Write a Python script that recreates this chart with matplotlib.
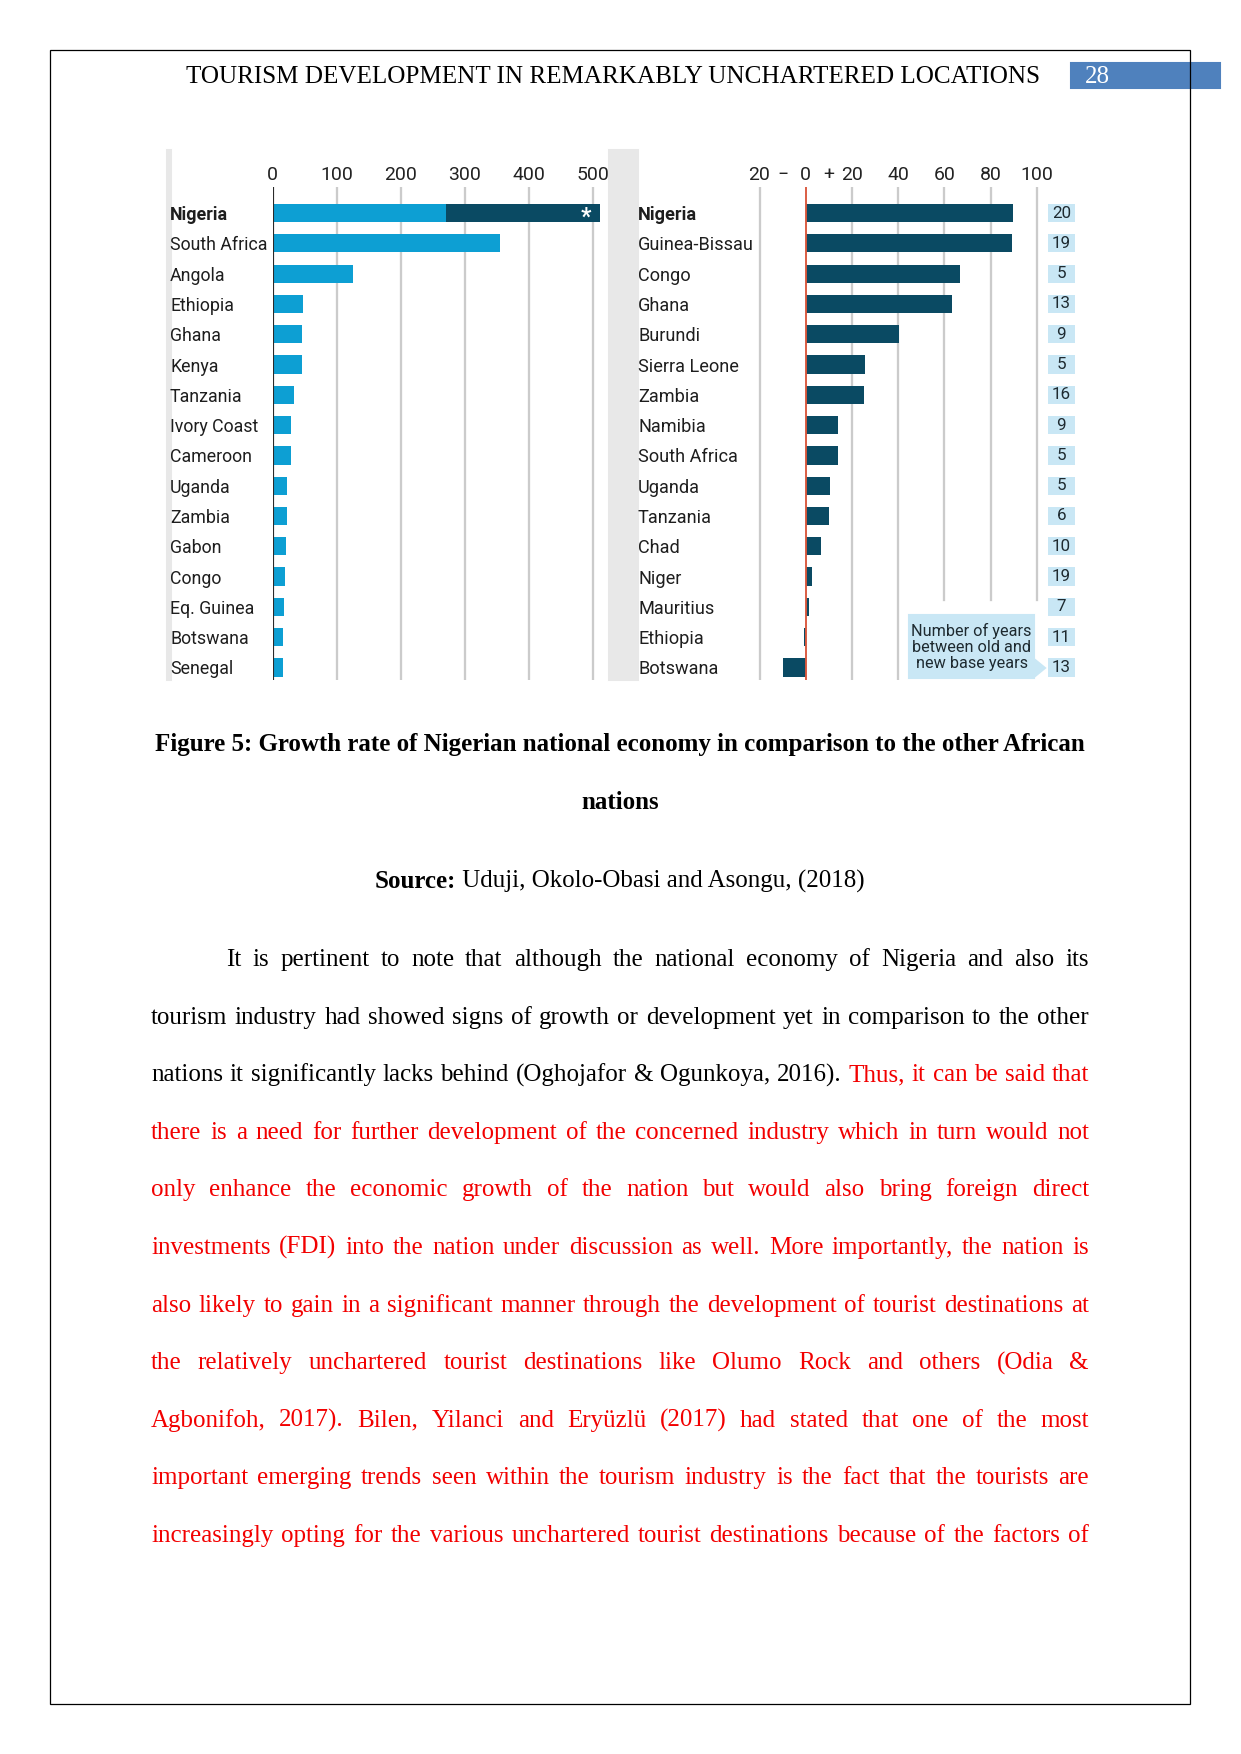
import matplotlib
matplotlib.use('Agg')
import matplotlib.pyplot as plt
import matplotlib.transforms as mtransforms
from matplotlib.patches import Rectangle, Polygon

W, H = 1241, 1754
DPI = 150

# ---- chart data ----
left_countries = ['Nigeria', 'South Africa', 'Angola', 'Ethiopia', 'Ghana', 'Kenya',
                  'Tanzania', 'Ivory Coast', 'Cameroon', 'Uganda', 'Zambia', 'Gabon',
                  'Congo', 'Eq. Guinea', 'Botswana', 'Senegal']
left_values = [270, 355, 125, 48, 46, 45, 33, 29, 28, 23, 22, 20, 19, 18, 16, 16]
nigeria_rebased = 512

right_countries = ['Nigeria', 'Guinea-Bissau', 'Congo', 'Ghana', 'Burundi', 'Sierra Leone',
                   'Zambia', 'Namibia', 'South Africa', 'Uganda', 'Tanzania', 'Chad',
                   'Niger', 'Mauritius', 'Ethiopia', 'Botswana']
right_values = [89.6, 89.2, 66.8, 63.2, 40.5, 25.7, 25.4, 14.1, 13.9, 10.7, 10.1, 6.8,
                2.7, 1.4, -0.7, -10.0]
years_between = [20, 19, 5, 13, 9, 5, 16, 9, 5, 5, 6, 10, 19, 7, 11, 13]

left_ticks = [0, 100, 200, 300, 400, 500]
right_ticks = [-20, -10, 0, 10, 20, 40, 60, 80, 100]
right_ticklabels = ['20', '\u2212', '0', '+', '20', '40', '60', '80', '100']

# ---- page text ----
header = 'TOURISM DEVELOPMENT IN REMARKABLY UNCHARTERED LOCATIONS'
page_no = '28'
caption1 = 'Figure 5: Growth rate of Nigerian national economy in comparison to the other African'
caption2 = 'nations'
source_bold = 'Source:'
source_rest = ' Uduji, Okolo-Obasi and Asongu, (2018)'

RED = '#f20000'
body = [
    [('It is pertinent to note that although the national economy of Nigeria and also its', 'black')],
    [('tourism industry had showed signs of growth or development yet in comparison to the other', 'black')],
    [('nations it significantly lacks behind (Oghojafor & Ogunkoya, 2016).', 'black'),
     ('Thus, it can be said that', RED)],
    [('there is a need for further development of the concerned industry which in turn would not', RED)],
    [('only enhance the economic growth of the nation but would also bring foreign direct', RED)],
    [('investments (FDI) into the nation under discussion as well. More importantly, the nation is', RED)],
    [('also likely to gain in a significant manner through the development of tourist destinations at', RED)],
    [('the relatively unchartered tourist destinations like Olumo Rock and others (Odia &', RED)],
    [('Agbonifoh, 2017). Bilen, Yilanci and Ery\u00fczl\u00fc (2017) had stated that one of the most', RED)],
    [('important emerging trends seen within the tourism industry is the fact that the tourists are', RED)],
    [('increasingly opting for the various unchartered tourist destinations because of the factors of', RED)],
]

LIGHT = '#0d9fd3'
DARK = '#0a4a63'
BOXBLUE = '#c9e7f5'
GRAY = '#e8e8e8'
GRID = '#cbcbcb'
SERIF = 'Liberation Serif'
SANS = ['Roboto', 'DejaVu Sans']


def main():
    fig = plt.figure(figsize=(W / DPI, H / DPI), dpi=DPI)
    fig.patch.set_facecolor('white')
    px = mtransforms.Affine2D().scale(1.0 / W, -1.0 / H).translate(0, 1) + fig.transFigure

    def add_axes(x0, y0, x1, y1):
        return fig.add_axes([x0 / W, 1 - y1 / H, (x1 - x0) / W, (y1 - y0) / H])

    # page frame and header
    fig.patches.append(Rectangle((1071, 63), 149, 25, transform=px, color='#4f81bd', zorder=1))
    fig.patches.append(Rectangle((50, 50), 1140, 1654, transform=px, fill=False,
                                 ec='black', lw=0.6, zorder=2))
    fig.text(1040, 83, header, transform=px, ha='right', va='baseline',
             family=SERIF, fontsize=12.05)
    fig.text(1085, 83, page_no, transform=px, ha='left', va='baseline',
             family=SERIF, fontsize=12, color='white', zorder=3)

    # chart background strips
    for (x, w) in [(167, 4), (609, 29)]:
        fig.patches.append(Rectangle((x, 150), w, 530, transform=px, color=GRAY, zorder=-1))

    n = len(left_countries)
    top_px, bot_px = 186.7, 680.0
    row0, step = 213.1, 30.29
    ylim = (n - 1 + (bot_px - (row0 + step * (n - 1))) / step, -(row0 - top_px) / step)

    # ---- left panel ----
    zero_l, sc_l = 272.7, 0.64
    axl = add_axes(zero_l, top_px, 606, bot_px)
    axl.set_facecolor('none')
    axl.set_xlim(0, (606 - zero_l) / sc_l)
    axl.set_ylim(*ylim)
    axl.barh(range(1, n), left_values[1:], height=0.6, color=LIGHT, zorder=2)
    axl.barh(0, nigeria_rebased, height=0.6, color=DARK, zorder=2)
    axl.barh(0, left_values[0], height=0.6, color=LIGHT, zorder=3)
    axl.text(490, 0.14, '*', color='white', fontsize=11, fontweight='bold',
             ha='center', va='center', family=SANS, zorder=4)
    axl.set_xticks(left_ticks)
    axl.xaxis.tick_top()
    axl.xaxis.grid(True, color=GRID, lw=1.1)
    axl.set_axisbelow(True)
    axl.axvline(0, color='#2a2a2a', lw=1.0, zorder=4)
    axl.set_yticks(range(n), left_countries)
    axl.tick_params(axis='x', length=0, pad=1.5, labelsize=9.3, labelcolor='#222222')
    axl.tick_params(axis='y', length=0, pad=(zero_l - 170) * 72 / DPI, labelsize=8.5,
                    labelcolor='#1e1e1e')
    for lbl in axl.get_xticklabels():
        lbl.set_family(SANS)
    for lbl in axl.get_yticklabels():
        lbl.set_ha('left')
        lbl.set_family(SANS)
    axl.get_yticklabels()[0].set_fontweight('bold')
    for s in axl.spines.values():
        s.set_visible(False)

    # ---- right panel ----
    zero_r, sc_r = 805.7, 2.31
    x0r, x1r = 700, 1080
    axr = add_axes(x0r, top_px, x1r, bot_px)
    axr.set_facecolor('none')
    axr.set_xlim((x0r - zero_r) / sc_r, (x1r - zero_r) / sc_r)
    axr.set_ylim(*ylim)
    short = 1 - (600 - top_px) / (bot_px - top_px)
    for g in [-20, 20, 40]:
        axr.axvline(g, color=GRID, lw=1.1, zorder=1)
    for g in [60, 80, 100]:
        axr.axvline(g, ymin=short, ymax=1, color=GRID, lw=1.1, zorder=1)
    axr.barh(range(n), right_values, height=0.6, color=DARK, zorder=2)
    axr.axvline(0, color='#d9573c', lw=0.9, zorder=3)
    box_left = (1047.7 - zero_r) / sc_r
    box_w = (1075 - 1047.7) / sc_r
    axr.barh(range(n), [box_w] * n, left=box_left, height=0.6, color=BOXBLUE, zorder=2)
    for i, v in enumerate(years_between):
        axr.text(box_left + box_w / 2, i, str(v), ha='center', va='center',
                 fontsize=8.2, color='#1e2a30', family=SANS, zorder=4)
    axr.set_xticks(right_ticks, right_ticklabels)
    axr.xaxis.tick_top()
    axr.set_yticks(range(n), right_countries)
    axr.tick_params(axis='x', length=0, pad=1.5, labelsize=9.3, labelcolor='#222222')
    axr.tick_params(axis='y', length=0, pad=(x0r - 638) * 72 / DPI, labelsize=8.7,
                    labelcolor='#1e1e1e')
    for lbl in axr.get_xticklabels():
        lbl.set_family(SANS)
    for lbl in axr.get_yticklabels():
        lbl.set_ha('left')
        lbl.set_family(SANS)
    axr.get_yticklabels()[0].set_fontweight('bold')
    for s in axr.spines.values():
        s.set_visible(False)

    # callout
    fig.patches.append(Polygon([(909, 615), (1034, 615), (1034, 659), (1045, 668),
                                (1034, 677), (1034, 678), (909, 678)],
                               closed=True, transform=px, color=BOXBLUE, zorder=2))
    fig.text(971.5, 647, 'Number of years\nbetween old and\nnew base years', transform=px,
             ha='center', va='center', fontsize=7.8, linespacing=1.05,
             color='#1e2a30', family=SANS, zorder=3)

    # ---- caption ----
    fig.text(620, 751, caption1, transform=px, ha='center', va='baseline',
             family=SERIF, fontsize=12, fontweight='bold')
    fig.text(620, 809, caption2, transform=px, ha='center', va='baseline',
             family=SERIF, fontsize=12, fontweight='bold')

    renderer = fig.canvas.get_renderer()
    t1 = fig.text(0, 888, source_bold, transform=px, va='baseline',
                  family=SERIF, fontsize=12, fontweight='bold')
    t2 = fig.text(0, 888, source_rest, transform=px, va='baseline',
                  family=SERIF, fontsize=12)
    w1 = t1.get_window_extent(renderer).width
    w2 = t2.get_window_extent(renderer).width
    xs = 620 - (w1 + w2) / 2
    t1.set_x(xs)
    t2.set_x(xs + w1)

    # ---- justified body text ----
    left_margin, right_margin = 151, 1089
    for k, segs in enumerate(body):
        y = 959 + 57.6 * k + 7
        x0 = 226 if k == 0 else left_margin
        words = [(w, c) for txt, c in segs for w in txt.split()]
        objs = [fig.text(0, y, w, transform=px, va='baseline', family=SERIF,
                         fontsize=12, color=c) for w, c in words]
        widths = [o.get_window_extent(renderer).width for o in objs]
        gap = (right_margin - x0 - sum(widths)) / (len(objs) - 1)
        x = x0
        for o, wd in zip(objs, widths):
            o.set_x(x)
            x += wd + gap

    fig.savefig('out.png', dpi=DPI)


if __name__ == '__main__':
    main()
